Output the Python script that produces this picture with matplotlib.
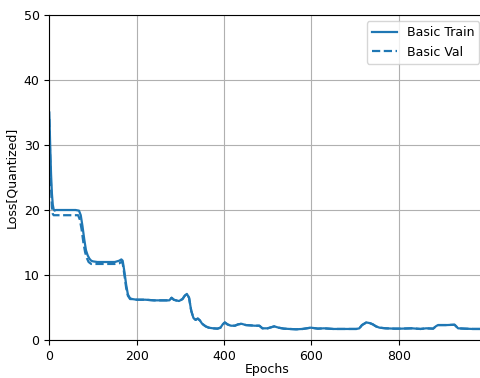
import matplotlib
matplotlib.use("Agg")
import matplotlib.pyplot as plt

train_epochs = [0, 2, 4, 6, 8, 10, 12, 15, 20, 30, 40, 50, 60, 68, 72, 76, 80, 84, 88, 92, 96, 100,
                110, 120, 130, 140, 150, 160, 165, 168, 172, 176, 180, 185, 190, 200, 220, 240, 260,
                275, 280, 285, 290, 297, 305, 310, 315, 320, 325, 330, 335, 340, 345, 350, 358, 365,
                375, 385, 392, 397, 402, 408, 416, 425, 432, 440, 450, 461, 470, 481, 488, 500, 515,
                525, 537, 550, 565, 580, 599, 615, 629, 650, 675, 703, 710, 716, 726, 734, 741, 748,
                756, 770, 790, 806, 830, 850, 863, 879, 885, 890, 910, 928, 936, 950, 970, 999]
train_loss = [35.0, 30.0, 25.5, 22.5, 20.8, 20.1, 19.9, 20.0, 20.0, 20.0, 20.0, 20.0, 20.0, 19.9, 19.2,
              17.5, 15.5, 13.8, 13.0, 12.5, 12.2, 12.1, 12.0, 12.0, 12.0, 12.0, 12.0, 12.2, 12.4, 12.2,
              10.5, 8.5, 7.0, 6.4, 6.3, 6.2, 6.2, 6.1, 6.1, 6.1, 6.5, 6.2, 6.1, 6.0, 6.3, 6.8, 7.1, 6.5,
              4.5, 3.4, 3.1, 3.3, 3.0, 2.5, 2.1, 1.9, 1.8, 1.75, 1.9, 2.4, 2.7, 2.4, 2.2, 2.2, 2.4, 2.5,
              2.3, 2.25, 2.2, 2.2, 1.8, 1.8, 2.1, 1.9, 1.75, 1.7, 1.65, 1.7, 1.9, 1.75, 1.8, 1.7, 1.7,
              1.7, 1.8, 2.3, 2.7, 2.6, 2.4, 2.1, 1.9, 1.8, 1.75, 1.75, 1.8, 1.7, 1.8, 1.75, 2.1, 2.3,
              2.3, 2.35, 1.8, 1.75, 1.7, 1.7]

val_head_epochs = [0, 2, 4, 6, 8, 10, 20, 40, 60, 66, 70, 74, 78, 82, 86, 90, 96, 110, 130, 150,
                   160, 165, 168, 172, 176, 180, 185]
val_head_loss = [34.0, 28.0, 23.5, 20.5, 19.4, 19.2, 19.2, 19.2, 19.2, 19.2, 18.5, 17.0, 15.0, 13.5,
                 12.6, 12.0, 11.7, 11.7, 11.7, 11.7, 11.8, 12.0, 11.8, 10.0, 8.0, 6.8, 6.3]

tail_start = train_epochs.index(190)
val_epochs = val_head_epochs + train_epochs[tail_start:]
val_loss = val_head_loss + train_loss[tail_start:]

plt.rcParams['font.size'] = 9
color = "#1f77b4"
fig = plt.figure(figsize=(4.81, 3.78), dpi=100)
ax = fig.add_axes([0.1025, 0.1005, 0.907, 0.8598])
ax.plot(train_epochs, train_loss, color=color, lw=1.6, label="Basic Train")
ax.plot(val_epochs, val_loss, color=color, lw=1.6, linestyle="--", label="Basic Val")
ax.set_xlim(0, 999)
ax.set_ylim(0, 50)
ax.set_xticks([0, 200, 400, 600, 800])
ax.set_xlabel("Epochs", labelpad=0.5)
ax.set_ylabel("Loss[Quantized]")
ax.grid(True)
ax.legend(loc="upper right")
fig.savefig("out.png", dpi=100)
